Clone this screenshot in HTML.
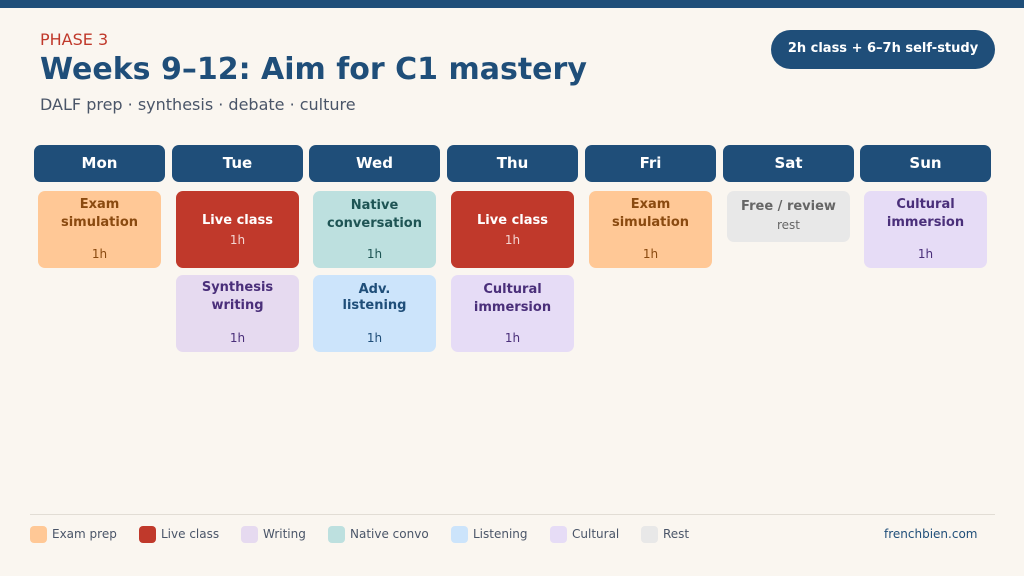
<!DOCTYPE html>
<html><head><meta charset="utf-8"><style>
*{margin:0;padding:0;box-sizing:border-box}
body{width:1024px;height:576px;background:#faf6f0;position:relative;overflow:hidden;font-family:"DejaVu Sans","Liberation Sans",sans-serif}
.a{position:absolute}
.t{position:absolute;left:0;width:100%;text-align:center;height:18px;line-height:18px;white-space:nowrap}
.h{position:absolute;top:145px;width:131px;height:37px;background:#1f4e79;border-radius:7px;color:#fff;font-weight:bold;font-size:15px;line-height:37px;text-align:center}
.c{position:absolute;width:123px;border-radius:7px}
.b{font-weight:bold;font-size:13px}
.n{font-size:12px}
.ex{background:#ffc896;color:#8a4a10}
.lv{background:#c0392b;color:#fff}
.wr{background:#e6daf0;color:#4a2f7a}
.nc{background:#bde0df;color:#1e5454}
.ls{background:#cce4fb;color:#1f4e79}
.cu{background:#e6dcf6;color:#4a2f7a}
.rs{background:#e8e8e8;color:#666}
.sw{position:absolute;top:526px;width:17px;height:17px;border-radius:4px}
.lg{position:absolute;top:526px;font-size:12px;line-height:17px;color:#4a5568}
</style></head><body>
<div class="a" style="left:0;top:0;width:1024px;height:8px;background:#1f4e79"></div>
<div class="a" style="left:40px;top:30px;font-size:16px;color:#c0392b;line-height:20px">PHASE 3</div>
<div class="a" style="left:40px;top:50px;font-size:30px;font-weight:bold;color:#1f4e79;line-height:40px">Weeks 9–12: Aim for C1 mastery</div>
<div class="a" style="left:40px;top:95px;font-size:16px;color:#4a5568;line-height:20px">DALF prep · synthesis · debate · culture</div>
<div class="a" style="left:771px;top:30px;width:224px;height:39px;border-radius:20px;background:#1f4e79;color:#fff;font-weight:bold;font-size:13px;line-height:37px;text-align:center">2h class + 6–7h self-study</div>

<div class="h" style="left:34px">Mon</div>
<div class="h" style="left:172px">Tue</div>
<div class="h" style="left:309px">Wed</div>
<div class="h" style="left:447px">Thu</div>
<div class="h" style="left:585px">Fri</div>
<div class="h" style="left:723px">Sat</div>
<div class="h" style="left:860px">Sun</div>

<!-- Mon -->
<div class="c ex" style="left:38px;top:191px;height:77px"><div class="t b" style="top:5px">Exam</div><div class="t b" style="top:23px">simulation</div><div class="t n" style="top:54px">1h</div></div>
<!-- Tue -->
<div class="c lv" style="left:176px;top:191px;height:77px"><div class="t b" style="top:21px">Live class</div><div class="t n" style="top:40px;color:#f4d6d2">1h</div></div>
<div class="c wr" style="left:176px;top:275px;height:77px"><div class="t b" style="top:4px">Synthesis</div><div class="t b" style="top:22px">writing</div><div class="t n" style="top:54px">1h</div></div>
<!-- Wed -->
<div class="c nc" style="left:313px;top:191px;height:77px"><div class="t b" style="top:6px">Native</div><div class="t b" style="top:24px">conversation</div><div class="t n" style="top:54px">1h</div></div>
<div class="c ls" style="left:313px;top:275px;height:77px"><div class="t b" style="top:6px">Adv.</div><div class="t b" style="top:22px">listening</div><div class="t n" style="top:54px">1h</div></div>
<!-- Thu -->
<div class="c lv" style="left:451px;top:191px;height:77px"><div class="t b" style="top:21px">Live class</div><div class="t n" style="top:40px;color:#f4d6d2">1h</div></div>
<div class="c cu" style="left:451px;top:275px;height:77px"><div class="t b" style="top:6px">Cultural</div><div class="t b" style="top:24px">immersion</div><div class="t n" style="top:54px">1h</div></div>
<!-- Fri -->
<div class="c ex" style="left:589px;top:191px;height:77px"><div class="t b" style="top:5px">Exam</div><div class="t b" style="top:23px">simulation</div><div class="t n" style="top:54px">1h</div></div>
<!-- Sat -->
<div class="c rs" style="left:727px;top:191px;height:51px"><div class="t b" style="top:7px">Free / review</div><div class="t n" style="top:25px">rest</div></div>
<!-- Sun -->
<div class="c cu" style="left:864px;top:191px;height:77px"><div class="t b" style="top:5px">Cultural</div><div class="t b" style="top:23px">immersion</div><div class="t n" style="top:54px">1h</div></div>

<div class="a" style="left:30px;top:514px;width:965px;height:1px;background:#e2ddd5"></div>
<div class="sw" style="left:30px;background:#ffc896"></div><div class="lg" style="left:52px">Exam prep</div>
<div class="sw" style="left:139px;background:#c0392b"></div><div class="lg" style="left:161px">Live class</div>
<div class="sw" style="left:241px;background:#e6daf0"></div><div class="lg" style="left:263px">Writing</div>
<div class="sw" style="left:328px;background:#bde0df"></div><div class="lg" style="left:350px">Native convo</div>
<div class="sw" style="left:451px;background:#cce4fb"></div><div class="lg" style="left:473px">Listening</div>
<div class="sw" style="left:550px;background:#e6dcf6"></div><div class="lg" style="left:572px">Cultural</div>
<div class="sw" style="left:641px;background:#e8e8e8"></div><div class="lg" style="left:663px">Rest</div>
<div class="lg" style="left:884px;color:#1f4e79">frenchbien.com</div>
</body></html>
